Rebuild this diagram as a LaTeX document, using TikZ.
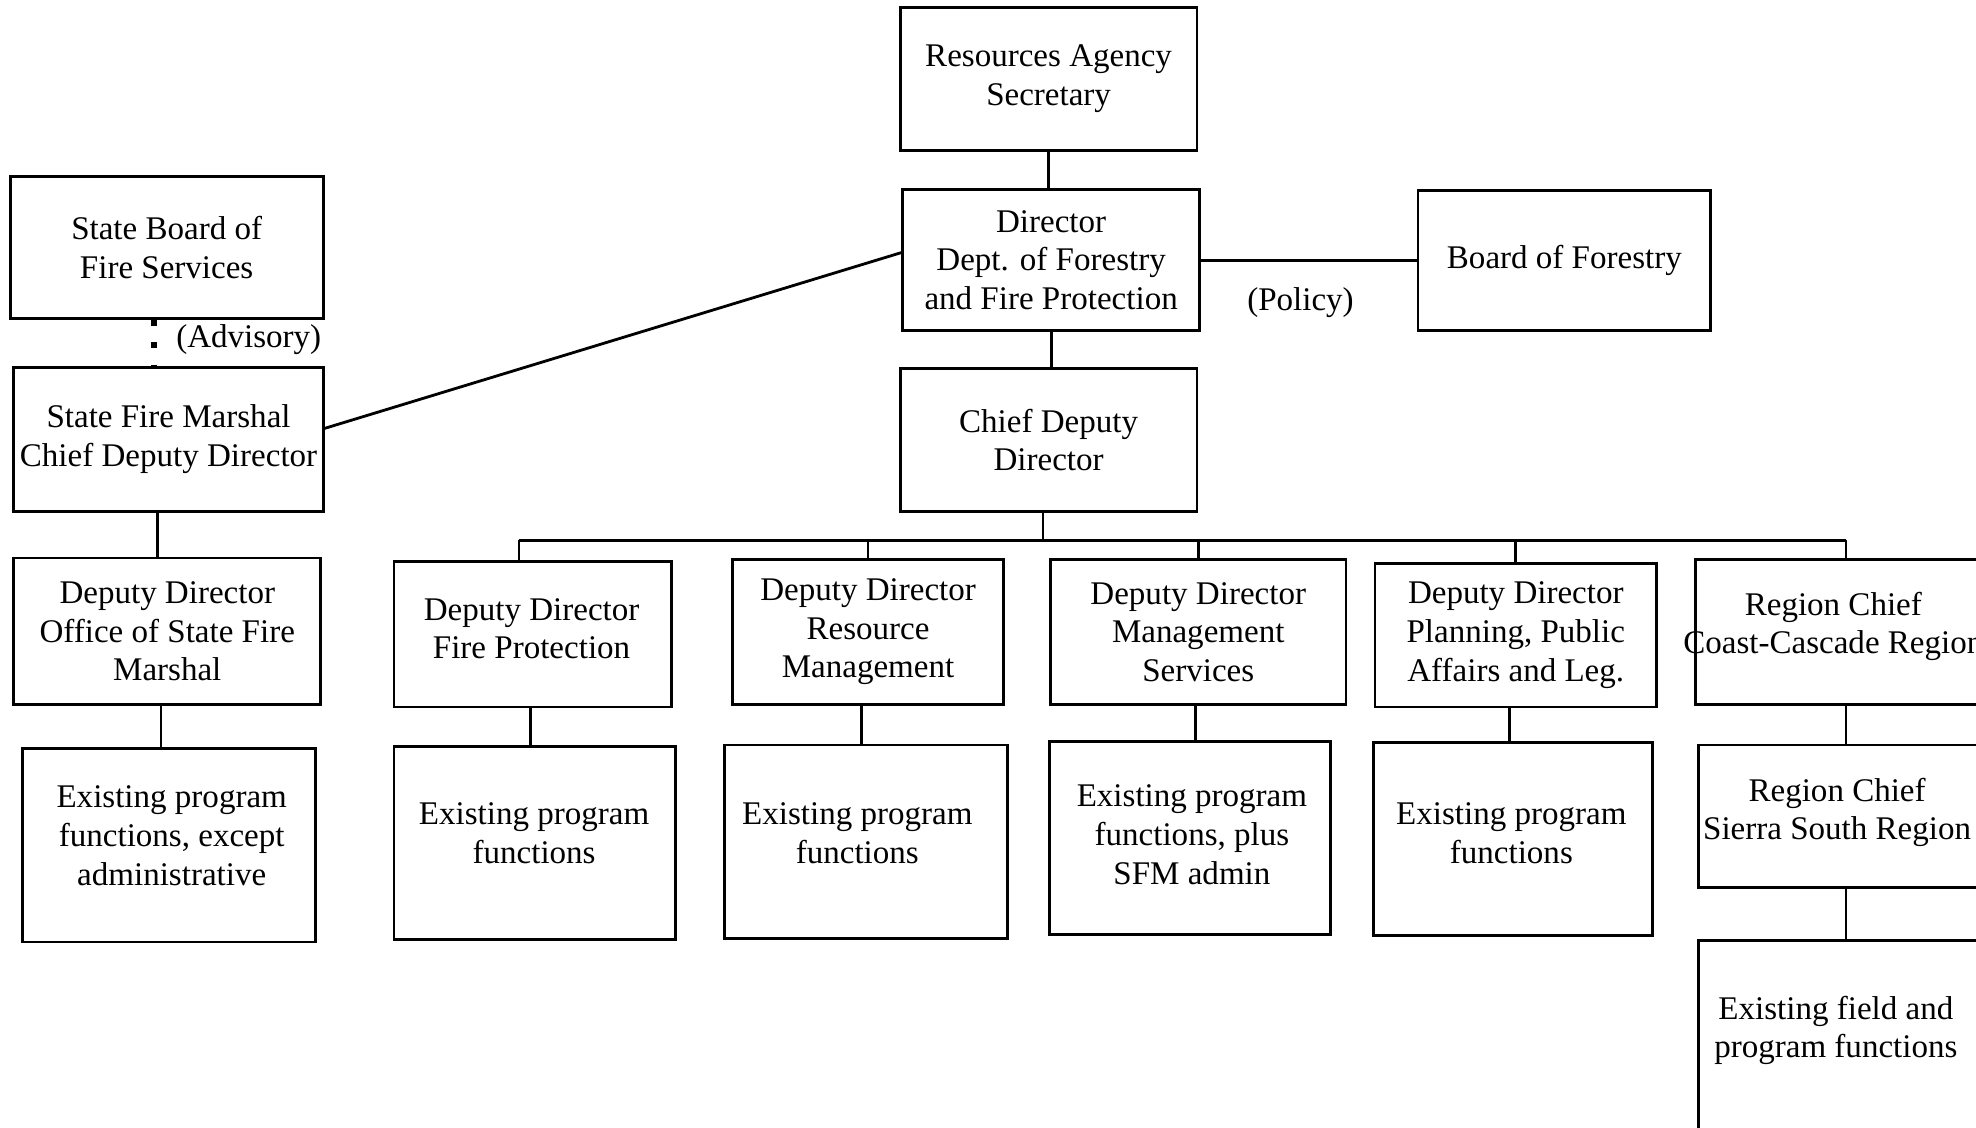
\documentclass[tikz,border=0pt]{standalone}
\usepackage{fontspec}
\setmainfont{Liberation Serif}
\usetikzlibrary{calc}

\newcommand{\px}{0.12626mm}

\tikzset{
  orgbox/.style 2 args={draw,line width=0.8pt,align=center,inner sep=0pt,
    minimum width=#1*\px,minimum height=#2*\px,font=\fontsize{9.4}{11}\selectfont},
  orglabel/.style={inner sep=0pt,align=center,font=\fontsize{9.4}{11}\selectfont},
  orgline/.style={line width=0.8pt},
  advisory/.style={line width=1.8pt,dash pattern=on 1.8pt off 4.6pt}
}

\begin{document}
\begin{tikzpicture}[x=\px,y=-\px]
\clip (0,0) rectangle (1565,892.6);
\fill[white] (0,0) rectangle (1565,892.6);

% top of the chart
\node[orgbox={235}{113}] (sec) at (830.5,62.5) {Resources Agency\\Secretary};
\node[orgbox={235}{112}] (dir) at (832.5,206) {Director\\Dept. of Forestry\\and Fire Protection};
\node[orgbox={232}{111}] (bof) at (1239,206.5) {Board of Forestry};
\node[orgbox={235}{113}] (cdd) at (830.5,348.5) {Chief Deputy\\Director};
\node[orglabel] (policy) at (1030,240) {(Policy)};

% state fire marshal side
\node[orgbox={248}{112}] (sbfs) at (132,196) {State Board of\\Fire Services};
\node[orgbox={245}{114}] (sfm) at (133.5,348) {State Fire Marshal\\Chief Deputy Director};
\node[orglabel] (advlabel) at (197,269) {(Advisory)};
\node[orgbox={243}{116}] (ddsfm) at (132.5,500) {Deputy Director\\Office of State Fire\\Marshal};
\node[orgbox={232}{153}] (epsfm) at (134,669.5) {};
\node[orglabel] (epsfmtext) at (136,662) {Existing program\\functions, except\\administrative};

% deputy directors
\node[orgbox={220}{115}] (ddfp) at (422,502.5) {};
\node[orglabel] (ddfptext) at (421,498) {Deputy Director\\Fire Protection};
\node[orgbox={215}{115}] (ddrm) at (687.5,500.5) {Deputy Director\\Resource\\Management};
\node[orgbox={234}{115}] (ddms) at (949,500.5) {Deputy Director\\Management\\Services};
\node[orgbox={223}{114}] (ddpl) at (1200.5,503) {Deputy Director\\Planning, Public\\Affairs and Leg.};
\node[orgbox={238}{115}] (rcc) at (1462,500.5) {};
\node[orglabel] (rcctext) at (1452,496) {Region Chief\\Coast-Cascade Region};

% program functions
\node[orgbox={223}{153}] (epfp) at (423.5,667.5) {};
\node[orglabel] (epfptext) at (423,660) {Existing program\\functions};
\node[orgbox={224}{153}] (eprm) at (686,666.5) {};
\node[orglabel] (eprmtext) at (679,660) {Existing program\\functions};
\node[orgbox={223}{153}] (epms) at (942.5,663.5) {};
\node[orglabel] (epmstext) at (944,661) {Existing program\\functions, plus\\SFM admin};
\node[orgbox={221}{153}] (eppl) at (1198.5,664.5) {};
\node[orglabel] (eppltext) at (1197,660) {Existing program\\functions};
\node[orgbox={234}{113}] (rcs) at (1462,646.5) {};
\node[orglabel] (rcstext) at (1455,643.5) {Region Chief\\Sierra South Region};
\node[orgbox={234}{160}] (epf) at (1462,825) {};
\node[orglabel] (epftext) at (1454,816) {Existing field and\\program functions};

% connectors
\draw[orgline] (sec.south) -- (sec.south |- dir.north);
\draw[orgline] (dir.east) -- (dir.east -| bof.west);
\draw[orgline] (dir.south) -- (dir.south |- cdd.north);
\draw[advisory] ([xshift=-10*\px]sbfs.south) -- ([xshift=-11.5*\px]sfm.north);
\draw[orgline] ([yshift=1.1mm]sfm.east) -- ([yshift=0.75mm]dir.west);
\draw[orgline] ([xshift=-9*\px]sfm.south) -- ([xshift=-9*\px]sfm.south |- ddsfm.north);
\draw[orgline] ([xshift=-5*\px]ddsfm.south) -- ([xshift=-5*\px]ddsfm.south |- epsfm.north);

\coordinate (bus) at (826,428);
\draw[orgline] (cdd.south -| bus) -- (bus);
\draw[orgline] ([xshift=-11*\px]ddfp.north |- bus) -- (rcc.north |- bus);
\draw[orgline] ([xshift=-11*\px]ddfp.north |- bus) -- ([xshift=-11*\px]ddfp.north);
\foreach \n in {ddrm,ddms,ddpl,rcc}
  \draw[orgline] (\n.north |- bus) -- (\n.north);

\draw[orgline] ([xshift=-2*\px]ddfp.south) -- ([xshift=-2*\px]ddfp.south |- epfp.north);
\draw[orgline] ([xshift=-5*\px]ddrm.south) -- ([xshift=-5*\px]ddrm.south |- eprm.north);
\draw[orgline] ([xshift=-2*\px]ddms.south) -- ([xshift=-2*\px]ddms.south |- epms.north);
\draw[orgline] ([xshift=-5*\px]ddpl.south) -- ([xshift=-5*\px]ddpl.south |- eppl.north);
\draw[orgline] (rcc.south) -- (rcs.north);
\draw[orgline] (rcs.south) -- (epf.north);
\end{tikzpicture}
\end{document}
